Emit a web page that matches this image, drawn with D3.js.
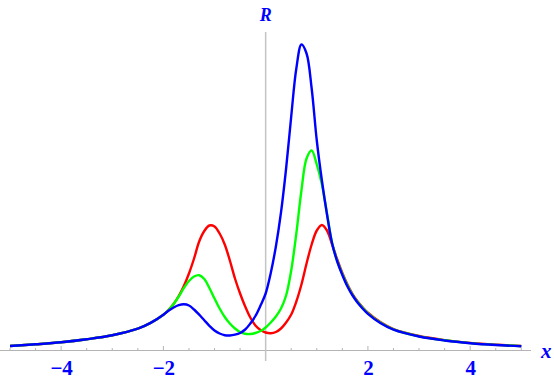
<!DOCTYPE html>
<html>
<head>
<meta charset="utf-8">
<script src="https://cdn.jsdelivr.net/npm/d3@7"></script>
<style>
	body{ margin:0; background:#fff; }
	svg{ display:block; }
	.tick-label{ font-family:"Liberation Serif","Times New Roman",serif; font-weight:bold; fill:#0000ff; }
	.axis-label{ font-family:"Liberation Serif","Times New Roman",serif; font-weight:bold; font-style:italic; fill:#0000ff; }
</style>
</head>
<body>
<svg id="chart" width="554" height="380"></svg>
<script>
//sample positions along x (denser where the curves move)
var xs = [-5, -4.5, -4, -3.5, -3, -2.5, -2.25,
	-2, -1.9, -1.8, -1.7, -1.6, -1.5, -1.4, -1.3, -1.2, -1.1,
	-1, -0.9, -0.8, -0.7, -0.6, -0.5, -0.4, -0.3, -0.2, -0.1,
	0, 0.1, 0.2, 0.3, 0.4, 0.5, 0.6, 0.7, 0.8, 0.9,
	1, 1.1, 1.2, 1.3, 1.4, 1.5, 1.6, 1.7, 1.8, 1.9,
	2, 2.25, 2.5, 3, 3.5, 4, 4.5, 5];

//R values, one per xs entry
var redR = [0.045, 0.062, 0.082, 0.112, 0.152, 0.218, 0.276,
	0.358, 0.405, 0.465, 0.545, 0.645, 0.770, 0.920, 1.090, 1.195, 1.250,
	1.240, 1.170, 1.060, 0.900, 0.720, 0.570, 0.440, 0.330, 0.250, 0.205,
	0.180, 0.173, 0.185, 0.220, 0.280, 0.360, 0.490, 0.660, 0.870, 1.060,
	1.200, 1.255, 1.200, 1.060, 0.910, 0.775, 0.660, 0.565, 0.490, 0.430,
	0.378, 0.282, 0.215, 0.145, 0.104, 0.076, 0.058, 0.045];

var greenR = [0.045, 0.062, 0.082, 0.112, 0.152, 0.218, 0.276,
	0.358, 0.405, 0.465, 0.540, 0.625, 0.695, 0.740, 0.753, 0.715, 0.625,
	0.520, 0.420, 0.335, 0.270, 0.220, 0.185, 0.167, 0.165, 0.175, 0.195,
	0.230, 0.280, 0.340, 0.420, 0.550, 0.800, 1.170, 1.600, 1.920, 2.000,
	1.860, 1.660, 1.370, 1.075, 0.895, 0.765, 0.650, 0.557, 0.484, 0.424,
	0.372, 0.277, 0.211, 0.142, 0.102, 0.074, 0.056, 0.044];

var blueR = [0.045, 0.062, 0.082, 0.112, 0.152, 0.218, 0.276,
	0.358, 0.398, 0.430, 0.453, 0.462, 0.450, 0.410, 0.358, 0.302, 0.247,
	0.200, 0.170, 0.153, 0.150, 0.158, 0.175, 0.210, 0.270, 0.345, 0.450,
	0.570, 0.775, 1.040, 1.380, 1.820, 2.340, 2.820, 3.060, 2.970, 2.620,
	2.100, 1.700, 1.360, 1.070, 0.890, 0.755, 0.640, 0.550, 0.478, 0.418,
	0.366, 0.272, 0.208, 0.140, 0.100, 0.073, 0.055, 0.043];

var xTickLabels = [-4, -2, 2, 4];
var minorTicks = d3.range(-5, 5.01, 0.5).filter(function(t){ return t !== 0; });

var series = [
	{name: 'red', color: '#ff0000', values: redR},
	{name: 'green', color: '#00ff00', values: greenR},
	{name: 'blue', color: '#0000ff', values: blueR}
];

var svg = d3.select('#chart');
var x = d3.scaleLinear().domain([-5, 5]).range([10, 521.3]);
var y = d3.scaleLinear().domain([0, 3.2]).range([350.5, 30.5]);

drawAxes();
drawCurves();

//mathematica style axes crossing at the origin
function drawAxes(){
	var g = svg.append('g').attr('class', 'axes');

	g.append('line') //horizontal axis
		.attr('x1', 0).attr('x2', 531)
		.attr('y1', y(0)).attr('y2', y(0))
		.attr('stroke', '#b4b4b4').attr('stroke-width', 1);

	g.append('line') //vertical axis
		.attr('x1', x(0)).attr('x2', x(0))
		.attr('y1', 32).attr('y2', 361)
		.attr('stroke', '#c4c4c4').attr('stroke-width', 1.5);

	g.selectAll('line.tick')
		.data(minorTicks)
		.enter().append('line')
		.attr('class', 'tick')
		.attr('x1', function(d){ return x(d); })
		.attr('x2', function(d){ return x(d); })
		.attr('y1', y(0))
		.attr('y2', function(d){ return xTickLabels.indexOf(d) >= 0 ? y(0) - 4.5 : y(0) - 2.5; })
		.attr('stroke', '#b4b4b4').attr('stroke-width', 1);

	g.selectAll('text.tick-label')
		.data(xTickLabels)
		.enter().append('text')
		.attr('class', 'tick-label')
		.attr('x', function(d){ return x(d) + 0.5; })
		.attr('y', 375)
		.attr('text-anchor', 'middle')
		.attr('font-size', 21)
		.text(function(d){ return d < 0 ? '\u2212' + Math.abs(d) : d; });

	g.append('text') //axis names
		.attr('class', 'axis-label')
		.attr('x', x(0))
		.attr('y', 20.5)
		.attr('text-anchor', 'middle')
		.attr('font-size', 18)
		.text('R');

	g.append('text')
		.attr('class', 'axis-label')
		.attr('x', 541)
		.attr('y', 358)
		.attr('font-size', 21)
		.text('x');
}

function drawCurves(){
	series.forEach(function(s){
		var line = d3.line()
			.x(function(d, i){ return x(xs[i]); })
			.y(function(d){ return y(d); })
			.curve(d3.curveCatmullRom.alpha(0.5));

		svg.append('path')
			.datum(s.values)
			.attr('class', 'curve ' + s.name)
			.attr('fill', 'none')
			.attr('stroke', s.color)
			.attr('stroke-width', 2.4)
			.attr('stroke-linejoin', 'round')
			.attr('d', line);
	});
}
</script>
</body>
</html>
